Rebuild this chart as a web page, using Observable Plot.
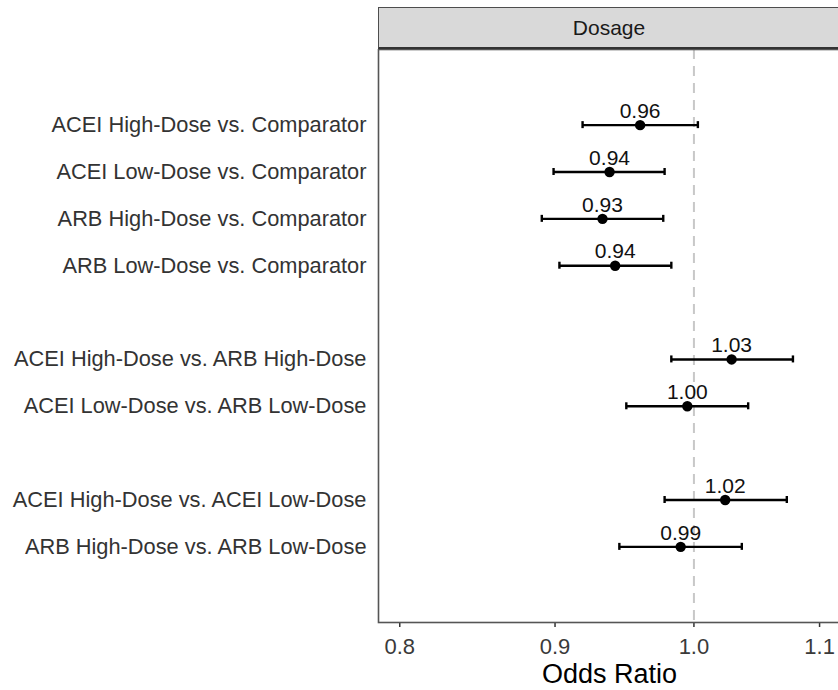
<!DOCTYPE html>
<html>
<head>
<meta charset="utf-8">
<script src="https://cdn.jsdelivr.net/npm/d3@7"></script>
<script src="https://cdn.jsdelivr.net/npm/@observablehq/plot@0.6"></script>
<style>
  html, body { margin: 0; padding: 0; background: #fff; overflow: hidden; }
  body { width: 838px; height: 690px; position: relative; font-family: "Liberation Sans", Arial, sans-serif; }
  #strip {
    position: absolute; left: 378px; top: 7px; width: 462px; height: 42px;
    box-sizing: border-box; background: #d9d9d9;
    border: 1.5px solid #4d4d4d; border-bottom: 2px solid #333;
    display: flex; align-items: center; justify-content: center;
    font-size: 21px; color: #1a1a1a;
  }
  #chart { position: absolute; left: 0; top: 49px; }
</style>
</head>
<body>
<div id="strip">Dosage</div>
<div id="chart"></div>
<script>
// Comparisons (top to bottom), grouped into blocks
const comparisons = [
  "ACEI High-Dose vs. Comparator",
  "ACEI Low-Dose vs. Comparator",
  "ARB High-Dose vs. Comparator",
  "ARB Low-Dose vs. Comparator",
  "ACEI High-Dose vs. ARB High-Dose",
  "ACEI Low-Dose vs. ARB Low-Dose",
  "ACEI High-Dose vs. ACEI Low-Dose",
  "ARB High-Dose vs. ARB Low-Dose"
];
const groups     = [1, 1, 1, 1, 2, 2, 3, 3];
const oddsRatio  = [0.960, 0.938, 0.933, 0.942, 1.029, 0.995, 1.024, 0.990];
const ciLower    = [0.919, 0.899, 0.891, 0.903, 0.983, 0.950, 0.978, 0.945];
const ciUpper    = [1.003, 0.978, 0.977, 0.983, 1.078, 1.042, 1.073, 1.037];
const orLabels   = ["0.96", "0.94", "0.93", "0.94", "1.03", "1.00", "1.02", "0.99"];
const xTicks     = [0.8, 0.9, 1.0, 1.1];
const refLine    = [1];
const xDomain    = [0.7872, 1.1176];
const xTitle     = "Odds Ratio";

const data = comparisons.map((c, i) => ({
  label: c, group: groups[i], or: oddsRatio[i], lo: ciLower[i], hi: ciUpper[i], text: orLabels[i]
}));

// y domain with blank spacer slots between groups
const yDomain = [];
comparisons.forEach((c, i) => {
  if (i > 0 && groups[i] !== groups[i - 1]) yDomain.push("gap" + i);
  yDomain.push(c);
});

const font = "'Liberation Sans', Arial, sans-serif";
const H = 641, MB = 68;
const plotH = H - MB;
const paddingOuter = 1.114;
const step = plotH / (yDomain.length + 2 * paddingOuter);
const capInset = step / 2 - 3.5;

const plot = Plot.plot({
  width: 838,
  height: H,
  marginLeft: 378,
  marginRight: -2,
  marginTop: 0,
  marginBottom: MB,
  style: { fontFamily: font, background: "white", overflow: "hidden" },
  x: { type: "log", domain: xDomain },
  y: { type: "band", domain: yDomain, paddingInner: 0, paddingOuter: paddingOuter, round: false },
  marks: [
    Plot.ruleX(refLine, { stroke: "#c8c8c8", strokeWidth: 2, strokeDasharray: "10,7" }),
    Plot.ruleY(data, { y: "label", x1: "lo", x2: "hi", stroke: "black", strokeWidth: 2.4 }),
    Plot.tickX(data, { x: "lo", y: "label", stroke: "black", strokeWidth: 2.4, insetTop: capInset, insetBottom: capInset }),
    Plot.tickX(data, { x: "hi", y: "label", stroke: "black", strokeWidth: 2.4, insetTop: capInset, insetBottom: capInset }),
    Plot.dot(data, { x: "or", y: "label", r: 5.2, fill: "black", stroke: "none" }),
    Plot.text(data, { x: "or", y: "label", text: "text", dy: -14, fontSize: 21, fill: "#111" }),
    Plot.axisX({
      ticks: xTicks, tickFormat: d3.format(".1f"), tickSize: 5, tickPadding: 11,
      fontSize: 22, color: "#3a3a3a", stroke: "#333", strokeWidth: 1.5, label: null
    }),
    Plot.axisY({
      ticks: comparisons, tickSize: 0, tickPadding: 12, fontSize: 21.8,
      color: "#333", label: null
    }),
    Plot.frame({ stroke: "#555", strokeWidth: 1.6 }),
    Plot.text([xTitle], { frameAnchor: "bottom", dy: 60, fontSize: 27, fill: "black" })
  ]
});
document.getElementById("chart").appendChild(plot);
</script>
</body>
</html>
